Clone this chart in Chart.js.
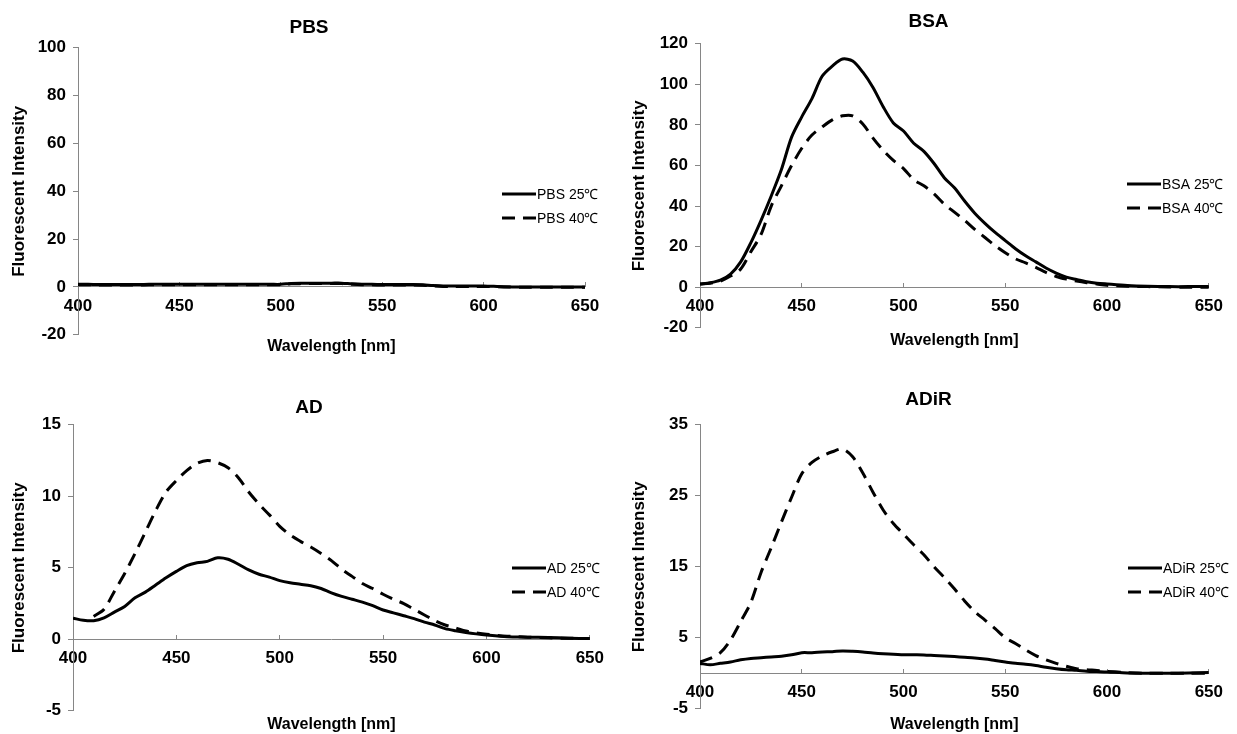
<!DOCTYPE html>
<html>
<head>
<meta charset="utf-8">
<script src="https://cdn.jsdelivr.net/npm/chart.js@4.4.0/dist/chart.umd.min.js"></script>
<style>
  body { margin: 0; background: #fff; }
  #wrap { position: relative; width: 1237px; height: 734px; }
  canvas { position: absolute; }
</style>
</head>
<body>
<div id="wrap">
  <canvas id="pbs" width="618" height="367" style="left:0;top:0"></canvas>
  <canvas id="bsa" width="617" height="367" style="left:620px;top:0"></canvas>
  <canvas id="ad" width="618" height="367" style="left:0;top:367px"></canvas>
  <canvas id="adir" width="617" height="367" style="left:620px;top:367px"></canvas>
</div>
<script>
    "use strict";

    // wavelength grid (nm)
    const wavelengths = [400, 405, 410, 415, 420, 425, 430, 435, 440, 445, 450, 455, 460, 465, 470, 475, 480, 485, 490, 495,
        500, 505, 510, 515, 520, 525, 530, 535, 540, 545, 550, 555, 560, 565, 570, 575, 580, 585, 590, 595, 600,
        610, 620, 630, 640, 650];

    // PBS
    const pbs25 = [1.1, 1.1, 1.0, 1.0, 1.0, 1.0, 1.0, 1.1, 1.1, 1.1, 1.1, 1.1, 1.1, 1.1, 1.1, 1.1, 1.1, 1.1, 1.1, 1.1,
        1.1, 1.5, 1.6, 1.6, 1.6, 1.6, 1.6, 1.3, 1.1, 1.1, 1.0, 1.0, 1.0, 1.0, 0.9, 0.6, 0.4, 0.4, 0.4, 0.4, 0.4,
        0.1, 0, 0, 0, 0];
    const pbs40 = [0.9, 0.9, 0.8, 0.8, 0.8, 0.8, 0.8, 0.9, 0.9, 0.9, 0.9, 0.9, 0.9, 0.9, 0.9, 0.9, 0.9, 0.9, 0.9, 0.9,
        0.9, 1.3, 1.4, 1.4, 1.4, 1.4, 1.4, 1.1, 0.9, 0.9, 0.8, 0.8, 0.8, 0.8, 0.7, 0.4, 0.2, 0.2, 0.2, 0.2, 0.2,
        0, -0.1, -0.1, -0.1, -0.1];

    // BSA
    const bsa25 = [1.6, 2.2, 3.5, 6.5, 12.5, 22, 33, 45, 58, 74, 84, 93, 104, 109, 112.5, 111.5, 106, 98.5, 89, 81,
        77, 71, 67, 61, 54, 49, 42.5, 36.5, 31.5, 27, 23, 19, 15.5, 12.5, 9.5, 7, 5, 3.8, 2.7, 2, 1.6,
        0.9, 0.5, 0.3, 0.3, 0.3];
    const bsa40 = [1.6, 2, 3, 5.5, 9, 17.5, 26, 40, 50, 60, 68.5, 75, 79, 82.5, 84.5, 84.5, 80.5, 73.5, 67.5, 62.5,
        58.5, 53, 50, 46, 41, 37, 33, 28.5, 24.5, 20.5, 17, 14, 12, 9.8, 7.3, 5.3, 4, 3, 2.2, 1.6, 1,
        0.5, 0.3, 0.1, 0, 0];

    // AD
    const ad25 = [1.48, 1.33, 1.3, 1.5, 1.9, 2.3, 2.9, 3.3, 3.8, 4.3, 4.75, 5.15, 5.35, 5.45, 5.7, 5.6, 5.25, 4.85, 4.55, 4.35,
        4.1, 3.95, 3.85, 3.75, 3.55, 3.25, 3.0, 2.8, 2.6, 2.35, 2.05, 1.85, 1.65, 1.45, 1.2, 1.0, 0.75, 0.6, 0.48, 0.38, 0.3,
        0.18, 0.15, 0.12, 0.08, 0.05];
    const ad40 = [null, null, 1.6, 2.1, 3.35, 4.6, 6.0, 7.5, 9.0, 10.3, 11.1, 11.8, 12.3, 12.5, 12.35, 12.0, 11.3, 10.3, 9.45, 8.7,
        7.9, 7.3, 6.85, 6.45, 6.0, 5.5, 4.9, 4.4, 3.9, 3.55, 3.15, 2.8, 2.5, 2.1, 1.7, 1.3, 1.0, 0.8, 0.58, 0.45, 0.35,
        0.22, 0.15, 0.1, 0.07, 0.05];

    // ADiR
    const adir25 = [1.4, 1.2, 1.4, 1.6, 1.9, 2.1, 2.2, 2.3, 2.4, 2.6, 2.9, 2.9, 3.0, 3.05, 3.15, 3.1, 3.0, 2.85, 2.75, 2.7,
        2.62, 2.6, 2.58, 2.5, 2.42, 2.35, 2.25, 2.15, 2.0, 1.8, 1.6, 1.4, 1.28, 1.1, 0.85, 0.65, 0.5, 0.42, 0.3, 0.25, 0.2,
        0.05, 0, 0, 0.05, 0.1];
    const adir40 = [1.6, 2.1, 2.9, 4.7, 7.3, 10, 14.2, 17.7, 21.3, 24.8, 28.1, 29.7, 30.6, 31.2, 31.6, 30.5, 28.2, 25.5, 23, 21.1,
        19.6, 18.1, 16.7, 15, 13.5, 11.9, 10.2, 8.7, 7.5, 6.3, 5.0, 4.2, 3.3, 2.5, 1.9, 1.4, 1.0, 0.65, 0.5, 0.4, 0.25,
        0.1, 0, 0, 0, 0];

    // axis ranges [min, max, step]
    const xRange = [400, 650, 50];
    const pbsY = [-20, 100, 20];
    const bsaY = [-20, 120, 20];
    const adY = [-5, 15, 5];
    const adirY = [-5, 35, 10];

    const FONT = '"Liberation Sans", Arial, sans-serif';
    const AXIS = '#868686';

    function pts(arr) {
        return wavelengths.map(function (w, i) { return {x: w, y: arr[i]}; });
    }

    // legend sitting inside the plot, on the right
    const sideLegend = {
        id: 'sideLegend',
        afterDraw: function (chart, args, opts) {
            const ctx = chart.ctx;
            ctx.save();
            ctx.font = '14px ' + FONT;
            ctx.textBaseline = 'middle';
            ctx.fillStyle = '#000';
            chart.data.datasets.forEach(function (ds, i) {
                const y = opts.y + i * 24;
                ctx.beginPath();
                ctx.setLineDash(ds.borderDash || []);
                ctx.lineWidth = ds.borderWidth;
                ctx.strokeStyle = ds.borderColor;
                ctx.moveTo(opts.x, y);
                ctx.lineTo(opts.x + 34, y);
                ctx.stroke();
                ctx.setLineDash([]);
                ctx.fillText(ds.label, opts.x + 35, y + 1);
            });
            ctx.restore();
        }
    };

    function panel(id, name, s25, s40, yr, lay) {
        return new Chart(document.getElementById(id), {
            type: 'line',
            data: {
                datasets: [{
                    label: name + ' 25\u2103',
                    data: pts(s25),
                    borderColor: '#000',
                    borderWidth: 3,
                    pointRadius: 0,
                    tension: 0.3
                }, {
                    label: name + ' 40\u2103',
                    data: pts(s40),
                    borderColor: '#000',
                    borderWidth: 3,
                    borderDash: [13, 8],
                    pointRadius: 0,
                    tension: 0.3
                }]
            },
            options: {
                responsive: false,
                animation: false,
                devicePixelRatio: 1,
                layout: {padding: 0},
                scales: {
                    x: {
                        type: 'linear',
                        position: {y: 0},
                        min: xRange[0], max: xRange[1],
                        grid: {drawOnChartArea: false, color: AXIS, tickLength: -5},
                        border: {color: AXIS, width: 1},
                        ticks: {stepSize: xRange[2], color: '#000', padding: 14,
                            font: {family: FONT, size: 17, weight: 'bold'}},
                        afterFit: function (s) { s.height = 0; }
                    },
                    y: {
                        type: 'linear',
                        position: 'left',
                        min: yr[0], max: yr[1],
                        grid: {drawOnChartArea: false, color: AXIS, tickLength: 5},
                        border: {color: AXIS, width: 1},
                        ticks: {stepSize: yr[2], color: '#000', padding: 7,
                            font: {family: FONT, size: 17, weight: 'bold'}},
                        title: {display: true, text: 'Fluorescent Intensity', color: '#000',
                            padding: {top: 9, bottom: 0},
                            font: {family: FONT, size: 17, weight: 'bold'}},
                        afterFit: function (s) { s.width = lay.left; }
                    },
                    pad: {
                        type: 'linear',
                        position: 'right',
                        display: true,
                        grid: {display: false},
                        border: {display: false},
                        ticks: {display: false},
                        afterFit: function (s) { s.width = lay.right; }
                    }
                },
                plugins: {
                    legend: {display: false},
                    tooltip: {enabled: false},
                    title: {display: true, text: name, color: '#000',
                        padding: {top: lay.tTop, bottom: lay.tBottom},
                        font: {family: FONT, size: 19, weight: 'bold'}},
                    subtitle: {display: true, position: 'bottom', fullSize: false,
                        text: 'Wavelength [nm]', color: '#000',
                        padding: {top: lay.sTop, bottom: lay.sBottom},
                        font: {family: FONT, size: 16, weight: 'bold'}},
                    sideLegend: {x: lay.lx, y: lay.ly}
                }
            },
            plugins: [sideLegend]
        });
    }

    panel('pbs', 'PBS', pbs25, pbs40, pbsY,
        {left: 78, right: 33, tTop: 16, tBottom: 9, sTop: 2, sBottom: 11, lx: 502, ly: 194});
    panel('bsa', 'BSA', bsa25, bsa40, bsaY,
        {left: 80, right: 24, tTop: 10, tBottom: 11, sTop: 3, sBottom: 17, lx: 507, ly: 184});
    panel('ad', 'AD', ad25, ad40, adY,
        {left: 73, right: 20, tTop: 29, tBottom: 6, sTop: 4, sBottom: 0, lx: 512, ly: 201});
    panel('adir', 'ADiR', adir25, adir40, adirY,
        {left: 80, right: 15, tTop: 21, tBottom: 14, sTop: 6, sBottom: 0, lx: 508, ly: 201});
</script>
</body>
</html>
